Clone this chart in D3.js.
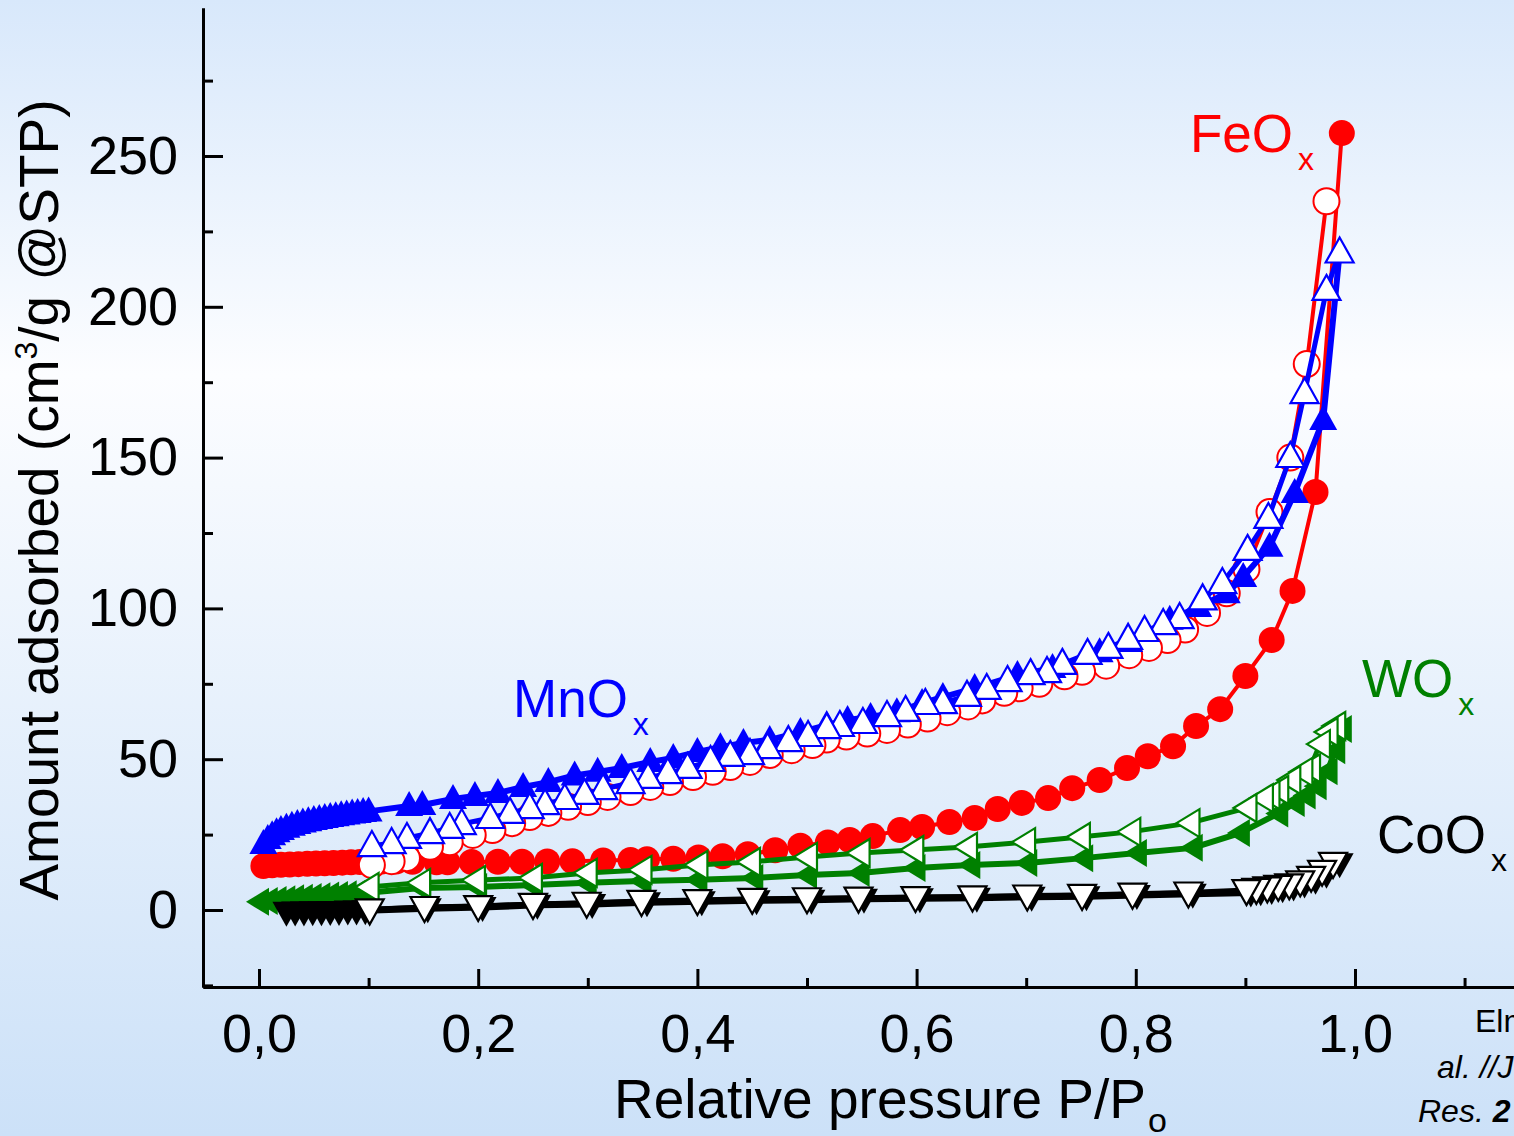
<!DOCTYPE html>
<html>
<head>
<meta charset="utf-8">
<script src="https://cdn.jsdelivr.net/npm/d3@7"></script>
<style>
  html, body { margin: 0; padding: 0; overflow: hidden; }
  svg text { font-family: "Liberation Sans", Arial, sans-serif; }
</style>
</head>
<body>
<div id="chart"></div>
<script>
// Isotherm data [P/Po, amount adsorbed]
const feoxAds = [
  [0.004, 14.6], [0.012, 14.8], [0.020, 15.0], [0.028, 15.1], [0.036, 15.2], [0.044, 15.3],
  [0.052, 15.4], [0.060, 15.5], [0.068, 15.6], [0.076, 15.7], [0.084, 15.8], [0.092, 15.9],
  [0.100, 16.0], [0.112, 16.1], [0.125, 16.1], [0.140, 16.0], [0.162, 15.8], [0.172, 15.8],
  [0.194, 15.9], [0.218, 16.0], [0.240, 16.0], [0.263, 16.1], [0.286, 16.2], [0.314, 16.4],
  [0.339, 16.6], [0.354, 16.8], [0.378, 17.0], [0.401, 17.4], [0.423, 17.8], [0.446, 18.5],
  [0.471, 19.8], [0.494, 21.3], [0.519, 22.4], [0.539, 23.2], [0.560, 24.5], [0.585, 26.5],
  [0.605, 27.5], [0.630, 29.2], [0.653, 30.5], [0.674, 33.5], [0.696, 35.5], [0.720, 37.1],
  [0.742, 40.4], [0.767, 43.1], [0.792, 47.1], [0.811, 51.0], [0.834, 54.3], [0.855, 61.0],
  [0.877, 66.6], [0.900, 77.6], [0.924, 89.5], [0.943, 105.8], [0.964, 138.6], [0.988, 257.6]
];
const feoxDes = [
  [0.974, 235], [0.956, 181], [0.941, 150], [0.922, 132], [0.901, 113], [0.883, 105],
  [0.865, 98.5], [0.845, 93], [0.829, 89.5], [0.812, 86.9], [0.794, 84.5], [0.773, 81],
  [0.751, 79], [0.735, 77.5], [0.712, 75], [0.694, 73.5], [0.680, 72], [0.660, 69.5],
  [0.647, 67.5], [0.628, 65.6], [0.610, 63.5], [0.592, 61.5], [0.573, 59.7], [0.555, 58.5],
  [0.536, 57.5], [0.518, 56.5], [0.505, 54.7], [0.486, 53], [0.466, 51.4], [0.448, 49.1],
  [0.430, 47.4], [0.414, 45.8], [0.396, 44.1], [0.375, 42.4], [0.357, 40.8], [0.339, 39.1],
  [0.318, 37.5], [0.300, 35.8], [0.282, 34.2], [0.264, 32.2], [0.247, 30.8], [0.231, 28.8],
  [0.213, 26.5], [0.195, 24.9], [0.174, 22.5], [0.156, 21.0], [0.135, 17.2], [0.121, 16.2],
  [0.103, 14.9]
];
const mnoxAds = [
  [0.004, 21.9], [0.008, 23.5], [0.012, 24.8], [0.016, 25.8], [0.020, 26.5], [0.025, 27.3],
  [0.030, 27.9], [0.035, 28.5], [0.040, 29.0], [0.045, 29.4], [0.050, 29.8], [0.055, 30.2],
  [0.060, 30.5], [0.065, 30.8], [0.070, 31.1], [0.075, 31.4], [0.080, 31.7], [0.085, 32.0],
  [0.090, 32.2], [0.095, 32.5], [0.100, 32.7], [0.137, 34.5], [0.149, 34.8], [0.177, 36.8],
  [0.197, 37.8], [0.218, 38.8], [0.241, 40.8], [0.264, 42.4], [0.288, 44.6], [0.309, 45.8],
  [0.331, 47.1], [0.357, 49.1], [0.378, 50.4], [0.400, 52.4], [0.421, 54.0], [0.442, 55.4],
  [0.466, 56.4], [0.494, 59.0], [0.518, 61.3], [0.537, 63.0], [0.558, 64.0], [0.582, 65.6],
  [0.605, 68.6], [0.624, 70.6], [0.653, 73.6], [0.692, 77.9], [0.724, 80.2], [0.767, 85.5],
  [0.794, 88.9], [0.831, 96.2], [0.857, 100.5], [0.883, 105], [0.898, 110.4], [0.922, 120.4],
  [0.945, 138.3], [0.971, 162.5], [0.986, 218]
];
const mnoxDes = [
  [0.986, 218], [0.974, 205.6], [0.954, 171.4], [0.941, 150.2], [0.921, 130], [0.902, 119.4],
  [0.879, 108.4], [0.861, 103], [0.840, 96.8], [0.825, 94.8], [0.808, 92.5], [0.793, 89.9],
  [0.775, 86.9], [0.756, 84.9], [0.733, 81.6], [0.719, 78.9], [0.704, 78.2], [0.683, 75.9],
  [0.664, 73.3], [0.646, 71], [0.624, 68.6], [0.608, 68.3], [0.590, 66], [0.573, 64.3],
  [0.551, 62], [0.530, 61], [0.518, 60.3], [0.501, 57.7], [0.483, 56], [0.464, 53.7],
  [0.448, 51.7], [0.430, 51.1], [0.412, 49.4], [0.391, 47.1], [0.373, 45.4], [0.355, 43.8],
  [0.339, 42.1], [0.314, 40.1], [0.297, 38.5], [0.279, 36.8], [0.261, 35.1], [0.247, 33.8],
  [0.229, 32.2], [0.211, 30.5], [0.185, 28.5], [0.174, 27.2], [0.156, 25.5], [0.135, 23.9],
  [0.121, 22.2], [0.103, 21.2]
];
const woxAds = [
  [0.000, 2.7], [0.008, 3.0], [0.016, 3.3], [0.024, 3.6], [0.032, 3.9], [0.040, 4.1],
  [0.048, 4.3], [0.056, 4.6], [0.064, 4.8], [0.072, 5.0], [0.080, 5.2], [0.088, 5.4],
  [0.096, 5.6], [0.148, 7.3], [0.199, 7.6], [0.249, 8.3], [0.299, 9.0], [0.349, 9.6],
  [0.400, 10.0], [0.451, 10.6], [0.500, 11.6], [0.548, 12.3], [0.599, 13.9], [0.649, 14.9],
  [0.701, 15.6], [0.752, 17.2], [0.801, 18.9], [0.852, 20.6], [0.895, 25.5], [0.930, 32],
  [0.945, 35.5], [0.955, 38], [0.965, 41], [0.975, 46], [0.982, 53], [0.988, 60]
];
const woxDes = [
  [0.982, 61], [0.975, 59], [0.968, 55], [0.959, 47], [0.952, 45.8], [0.941, 43.1],
  [0.930, 39.8], [0.922, 38.1], [0.916, 37.1], [0.901, 33.8], [0.849, 28.8], [0.795, 25.9],
  [0.749, 24.2], [0.699, 22.5], [0.646, 20.9], [0.597, 19.9], [0.548, 18.9], [0.500, 17.6],
  [0.448, 15.9], [0.400, 14.9], [0.349, 13.3], [0.299, 12.3], [0.249, 10.6], [0.197, 9.9],
  [0.147, 9.0], [0.100, 7.6]
];
const cooxAds = [
  [0.025, -0.6], [0.033, -0.5], [0.041, -0.5], [0.049, -0.4], [0.057, -0.4], [0.065, -0.3],
  [0.073, -0.3], [0.081, -0.2], [0.089, -0.2], [0.097, -0.1], [0.154, 0.6], [0.204, 1.0],
  [0.254, 1.7], [0.304, 2.0], [0.354, 2.6], [0.404, 2.9], [0.454, 3.2], [0.504, 3.4],
  [0.552, 3.7], [0.603, 3.9], [0.655, 4.1], [0.705, 4.4], [0.755, 4.6], [0.801, 5.0],
  [0.852, 5.4], [0.905, 5.8], [0.914, 6.2], [0.924, 6.6], [0.934, 7.2], [0.944, 7.8],
  [0.954, 8.8], [0.964, 10], [0.974, 12], [0.986, 15.5]
];
const cooxDes = [
  [0.980, 15.6], [0.970, 13], [0.960, 11], [0.950, 9.5], [0.940, 8.5], [0.930, 8],
  [0.920, 7.5], [0.910, 7], [0.901, 6.6], [0.848, 5.8], [0.797, 5.4], [0.751, 5.0],
  [0.701, 4.8], [0.651, 4.5], [0.599, 4.3], [0.547, 4.1], [0.500, 3.9], [0.450, 3.7],
  [0.400, 3.3], [0.349, 3.0], [0.299, 2.4], [0.250, 2.0], [0.200, 1.3], [0.151, 1.0],
  [0.101, 0.2]
];

const xMajorTicks = [0, 0.2, 0.4, 0.6, 0.8, 1.0];
const xMinorTicks = [0.1, 0.3, 0.5, 0.7, 0.9, 1.1];
const yMajorTicks = [0, 50, 100, 150, 200, 250];
const yMinorTicks = [-25, 25, 75, 125, 175, 225, 275];

const config = {
  width: 1514, height: 1136,
  margin: { top: 8, left: 203 },
  plotW: 1311, plotH: 979
};

const svg = d3.select('#chart').append('svg')
  .attr('width', config.width)
  .attr('height', config.height);

// background gradient
const grad = svg.append('defs').append('linearGradient')
  .attr('id', 'bg').attr('x1', 0).attr('y1', 0).attr('x2', 0).attr('y2', 1);
grad.append('stop').attr('offset', '0%').attr('stop-color', '#d8e8fb');
grad.append('stop').attr('offset', '33%').attr('stop-color', '#fcfdff');
grad.append('stop').attr('offset', '100%').attr('stop-color', '#cce1f8');
svg.append('rect').attr('width', config.width).attr('height', config.height).attr('fill', 'url(#bg)');

const chart = svg.append('g')
  .attr('transform', `translate(${config.margin.left},${config.margin.top})`);

const xScale = d3.scaleLinear().domain([-0.0511, 1.1451]).range([0, config.plotW]);
const yScale = d3.scaleLinear().domain([-25.53, 299.07]).range([config.plotH, 0]);

// axes
const fmtX = d => d3.format('.1f')(d).replace('.', ',');
const xAxisG = chart.append('g').attr('class', 'axis').attr('transform', `translate(0,${config.plotH})`);
xAxisG.call(d3.axisBottom(xScale).tickValues(xMajorTicks).tickFormat(fmtX)
  .tickSizeInner(-18).tickSizeOuter(0).tickPadding(27));
const xMinorG = chart.append('g').attr('class', 'axis minor').attr('transform', `translate(0,${config.plotH})`);
xMinorG.call(d3.axisBottom(xScale).tickValues(xMinorTicks).tickFormat('')
  .tickSizeInner(-9).tickSizeOuter(0));

const yAxisG = chart.append('g').attr('class', 'axis');
yAxisG.call(d3.axisLeft(yScale).tickValues(yMajorTicks).tickFormat(d3.format('d'))
  .tickSizeInner(-20).tickSizeOuter(0).tickPadding(25));
const yMinorG = chart.append('g').attr('class', 'axis minor');
yMinorG.call(d3.axisLeft(yScale).tickValues(yMinorTicks).tickFormat('')
  .tickSizeInner(-10).tickSizeOuter(0));

chart.selectAll('.axis path.domain').attr('stroke', '#000').attr('stroke-width', 3);
chart.selectAll('.axis .tick line').attr('stroke', '#000').attr('stroke-width', 3);
chart.selectAll('.axis .tick text').attr('font-size', 54).attr('fill', '#000')
  .attr('font-family', '"Liberation Sans", Arial, sans-serif');

// marker shapes
const shapes = {
  up: 'M0,-15L14,10L-14,10Z',
  down: 'M0,15L14,-10L-14,-10Z',
  left: 'M-13,0L10,-14L10,14Z'
};

const line = d3.line().x(d => xScale(d[0])).y(d => yScale(d[1]));

function drawSeries(data, color, marker, open, lw) {
  const g = chart.append('g');
  g.append('path').datum(data)
    .attr('d', line)
    .attr('fill', 'none')
    .attr('stroke', color)
    .attr('stroke-width', lw)
    .attr('stroke-linejoin', 'round');
  const pts = g.selectAll('.pt').data(data).enter();
  if (marker === 'circle') {
    pts.append('circle')
      .attr('cx', d => xScale(d[0]))
      .attr('cy', d => yScale(d[1]))
      .attr('r', 13)
      .attr('fill', open ? '#fff' : color)
      .attr('stroke', open ? color : 'none')
      .attr('stroke-width', 2);
  } else {
    pts.append('path')
      .attr('transform', d => `translate(${xScale(d[0])},${yScale(d[1])})`)
      .attr('d', shapes[marker])
      .attr('fill', open ? '#fff' : color)
      .attr('stroke', open ? color : 'none')
      .attr('stroke-width', 2.2);
  }
}

drawSeries(feoxAds, '#ff0000', 'circle', false, 4);
drawSeries(feoxDes, '#ff0000', 'circle', true, 4);
drawSeries(mnoxAds, '#0000ff', 'up', false, 6);
drawSeries(mnoxDes, '#0000ff', 'up', true, 5);
drawSeries(woxAds, '#008000', 'left', false, 6);
drawSeries(woxDes, '#008000', 'left', true, 5);
drawSeries(cooxAds, '#000000', 'down', false, 7);
drawSeries(cooxDes, '#000000', 'down', true, 5);

// series labels
const labels = [
  { name: 'FeO', color: '#ff0000', x: 1190, y: 152 },
  { name: 'MnO', color: '#0000ff', x: 513, y: 717 },
  { name: 'WO', color: '#008000', x: 1362, y: 697 },
  { name: 'CoO', color: '#000000', x: 1377, y: 853 }
];
labels.forEach(l => {
  const t = svg.append('text').attr('x', l.x).attr('y', l.y)
    .attr('fill', l.color).attr('font-size', 53).text(l.name);
  t.append('tspan').attr('dx', 5).attr('dy', 18).attr('font-size', 32).text('x');
});

// axis titles
const yTitle = svg.append('text')
  .attr('transform', 'translate(58,500) rotate(-90)')
  .attr('text-anchor', 'middle')
  .attr('font-size', 55).attr('fill', '#000')
  .text('Amount adsorbed (cm');
yTitle.append('tspan').attr('font-size', 32).attr('dy', -21).text('3');
yTitle.append('tspan').attr('dy', 21).text('/g @STP)');

const xTitle = svg.append('text')
  .attr('x', 614).attr('y', 1118)
  .attr('font-size', 55).attr('fill', '#000')
  .text('Relative pressure P/P');
xTitle.append('tspan').attr('dx', 2).attr('dy', 14).attr('font-size', 34).text('o');

// reference note, cut by the right edge
svg.append('text').attr('x', 1475).attr('y', 1032).attr('font-size', 32).text('Elm');
svg.append('text').attr('x', 1437).attr('y', 1078).attr('font-size', 32)
  .attr('font-style', 'italic').text('al. //J');
const ref3 = svg.append('text').attr('x', 1418).attr('y', 1122).attr('font-size', 32)
  .attr('font-style', 'italic').text('Res. ');
ref3.append('tspan').attr('font-weight', 'bold').text('2');
</script>
</body>
</html>
